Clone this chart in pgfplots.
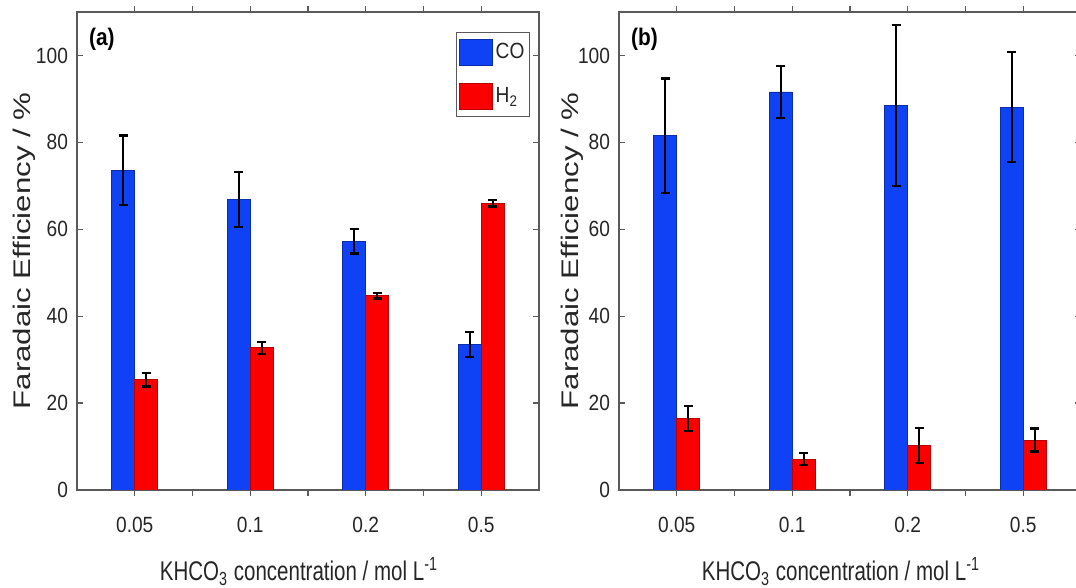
\documentclass[border=0pt]{standalone}
\usepackage{fontspec}
\setmainfont{Liberation Sans}[FakeStretch=0.87]
\newfontfamily\xlabfont{Liberation Sans}[FakeStretch=0.76]
\newfontfamily\ylabfont{Liberation Sans}[FakeStretch=1.3]
\usepackage{pgfplots}
\pgfplotsset{compat=1.18}
\definecolor{cob}{RGB}{16,66,245}
\definecolor{hr}{RGB}{250,0,0}
\definecolor{axg}{RGB}{90,90,90}
\pgfplotsset{
  panel/.style={
    scale only axis, width=231pt, height=239pt,
    xmin=-0.5, xmax=3.5, ymin=0, ymax=110,
    xtick={0,1,2,3}, xticklabels={0.05,0.1,0.2,0.5},
    minor xtick={0.5,1.5,2.5},
    ytick={0,20,40,60,80,100},
    tick align=inside, major tick length=3pt, minor tick length=3pt,
    axis line style={axg, line width=0.6pt},
    every tick/.style={axg, line width=0.6pt},
    every minor tick/.style={axg, line width=0.6pt},
    tick label style={font=\fontsize{11}{12}\selectfont, text=black!85},
    xticklabel style={yshift=-7pt},
    yticklabel style={xshift=-1pt},
    /pgf/number format/assume math mode=true,
    xlabel={\xlabfont\fontsize{13.5}{15}\selectfont KHCO\textsubscript{3} concentration / mol L\textsuperscript{-1}},
    xlabel style={at={(axis description cs:0.5,0)}, anchor=base, yshift=-45.5pt, xshift=-4.5pt, text=black!85},
    ylabel={\ylabfont\fontsize{12}{14}\selectfont Faradaic Efficiency / \%},
    ylabel style={anchor=center, text=black!85},
    ybar, bar width=0.2,
  },
  errs/.style={error bars/.cd, y dir=both, y explicit,
    error bar style={black, line width=1pt},
    error mark=|,
    error mark options={black, mark size=2.2pt, line width=1.1pt}},
  cobar/.style={fill=cob, draw=cob!70!black, line width=0.4pt, bar shift=-0.1,
    legend image code/.code={\draw[fill=cob, draw=cob!70!black, line width=0.4pt] (0pt,-6.5pt) rectangle (16.5pt,6.5pt);},
    errs},
  hbar/.style={fill=hr, draw=hr!75!black, line width=0.4pt, bar shift=0.1,
    legend image code/.code={\draw[fill=hr, draw=hr!75!black, line width=0.4pt] (0pt,-6.5pt) rectangle (16.5pt,6.5pt);},
    errs},
}
\begin{document}
\begin{tikzpicture}
\begin{axis}[panel, at={(38.5pt,49pt)}, anchor=south west,
  ylabel style={at={(axis description cs:-0.113,0.5)}},
  legend style={at={(rel axis cs:1,1)}, anchor=north east, xshift=-4.5pt, yshift=-10pt,
    draw=axg, line width=0.6pt, font=\fontsize{11}{13}\selectfont, text=black!85,
    row sep=9pt, inner xsep=1pt, inner ysep=3pt, nodes={inner xsep=1.5pt}, cells={anchor=west}},
  legend cell align=left]
\addplot[cobar] coordinates {(0,73.6) +- (0,8.0) (1,66.8) +- (0,6.3) (2,57.2) +- (0,2.8) (3,33.5) +- (0,2.9)};
\addplot[hbar] coordinates {(0,25.4) +- (0,1.6) (1,32.7) +- (0,1.35) (2,44.7) +- (0,0.65) (3,66.0) +- (0,0.75)};
\legend{CO, H\textsubscript{2}}
\node[anchor=north west, font=\bfseries\fontsize{12}{14}\selectfont, xshift=2.5pt, yshift=-4.5pt] at (rel axis cs:0,1) {(a)};
\end{axis}
\begin{axis}[panel, at={(309.5pt,49pt)}, anchor=south west,
  ylabel style={at={(axis description cs:-0.102,0.5)}}]
\addplot[cobar] coordinates {(0,81.5) +- (0,13.2) (1,91.6) +- (0,6.0) (2,88.5) +- (0,18.5) (3,88.1) +- (0,12.7)};
\addplot[hbar] coordinates {(0,16.5) +- (0,2.85) (1,7.1) +- (0,1.4) (2,10.3) +- (0,4.05) (3,11.5) +- (0,2.65)};
\node[anchor=north west, font=\bfseries\fontsize{12}{14}\selectfont, xshift=2.5pt, yshift=-4.5pt] at (rel axis cs:0,1) {(b)};
\end{axis}
\pgfresetboundingbox
\useasboundingbox (0,0) rectangle (538pt,294pt);
\end{tikzpicture}
\end{document}
